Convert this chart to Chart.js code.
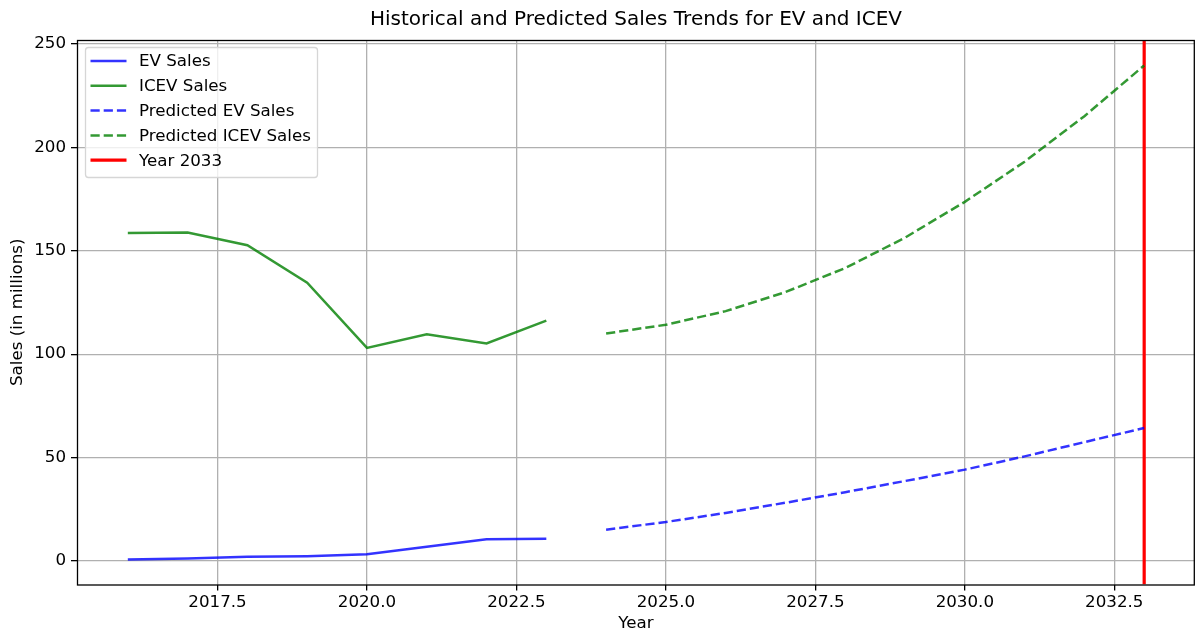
<!DOCTYPE html>
<html>
<head>
<meta charset="utf-8">
<script src="https://cdn.jsdelivr.net/npm/chart.js@4"></script>
<style>
  html, body { margin: 0; padding: 0; background: #fff; }
</style>
</head>
<body>
<canvas id="chart" width="1195" height="635"></canvas>
<script>
  const histYears = [2016, 2017, 2018, 2019, 2020, 2021, 2022, 2023];
  const evSales = [0.8, 1.3, 2.1, 2.4, 3.3, 6.9, 10.6, 10.8];
  const icevSales = [158.6, 158.8, 152.6, 134.5, 103.0, 109.6, 105.2, 116.2];

  const predYears = [2024, 2025, 2026, 2027, 2028, 2029, 2030, 2031, 2032, 2033];
  const predEvSales = [15.2, 18.9, 23.3, 28.2, 33.3, 38.7, 44.2, 50.6, 57.5, 64.3];
  const predIcevSales = [110.0, 114.2, 120.8, 130.0, 141.6, 156.3, 173.6, 193.0, 215.0, 239.5];

  const markerYear = 2033;

  const xTicks = [2017.5, 2020.0, 2022.5, 2025.0, 2027.5, 2030.0, 2032.5];
  const yTicks = [0, 50, 100, 150, 200, 250];
  const xRange = [2015.15, 2033.85];
  const yRange = [-11.3, 251.8];

  const FONT = "'DejaVu Sans', sans-serif";
  const BLUE = "rgba(0,0,255,0.8)";
  const GREEN = "rgba(0,128,0,0.8)";
  const DASH = [9.2, 4];

  const pts = (xs, ys) => xs.map((x, i) => ({ x, y: ys[i] }));

  // spines, legend and text, drawn on top like matplotlib does
  const decor = {
    id: "decor",
    afterDraw(chart) {
      const { ctx, chartArea: a } = chart;
      ctx.save();

      ctx.strokeStyle = "#000";
      ctx.lineWidth = 1.3;
      ctx.strokeRect(a.left + 0.5, a.top + 0.5, a.right - a.left - 1.2, a.bottom - a.top);

      ctx.fillStyle = "#000";
      ctx.textAlign = "center";
      ctx.textBaseline = "middle";
      ctx.font = `20px ${FONT}`;
      ctx.fillText("Historical and Predicted Sales Trends for EV and ICEV", (a.left + a.right) / 2, 20);

      ctx.font = `16.7px ${FONT}`;
      ctx.fillText("Year", (a.left + a.right) / 2, 624);
      ctx.save();
      ctx.translate(18, (a.top + a.bottom) / 2);
      ctx.rotate(-Math.PI / 2);
      ctx.fillText("Sales (in millions)", 0, 0);
      ctx.restore();

      // legend
      const bx = 85.5, by = 47.5, bw = 232, bh = 130;
      ctx.beginPath();
      ctx.roundRect(bx, by, bw, bh, 3);
      ctx.fillStyle = "rgba(255,255,255,0.8)";
      ctx.fill();
      ctx.strokeStyle = "#d6d6d6";
      ctx.lineWidth = 1.3;
      ctx.stroke();

      ctx.textAlign = "left";
      chart.data.datasets.forEach((ds, i) => {
        const y = 61 + i * 24.8;
        ctx.beginPath();
        ctx.setLineDash(ds.borderDash || []);
        ctx.strokeStyle = ds.borderColor;
        ctx.lineWidth = ds.borderWidth;
        ctx.moveTo(90.5, y);
        ctx.lineTo(126.5, y);
        ctx.stroke();
        ctx.setLineDash([]);
        ctx.fillStyle = "#000";
        ctx.fillText(ds.label, 139, y + 1);
      });

      ctx.restore();
    }
  };

  new Chart(document.getElementById("chart"), {
    type: "line",
    data: {
      datasets: [
        { label: "EV Sales", data: pts(histYears, evSales), borderColor: BLUE, borderWidth: 2.5 },
        { label: "ICEV Sales", data: pts(histYears, icevSales), borderColor: GREEN, borderWidth: 2.5 },
        { label: "Predicted EV Sales", data: pts(predYears, predEvSales), borderColor: BLUE, borderWidth: 2.5, borderDash: DASH },
        { label: "Predicted ICEV Sales", data: pts(predYears, predIcevSales), borderColor: GREEN, borderWidth: 2.5, borderDash: DASH },
        { label: "Year 2033", data: [{ x: markerYear, y: yRange[0] }, { x: markerYear, y: yRange[1] }], borderColor: "#ff0000", borderWidth: 3.2 }
      ]
    },
    options: {
      responsive: false,
      animation: false,
      devicePixelRatio: 1,
      layout: { padding: { top: 40, left: 0, right: 0, bottom: 0 } },
      elements: { point: { radius: 0 }, line: { tension: 0, borderCapStyle: "butt" } },
      plugins: { legend: { display: false }, tooltip: { enabled: false } },
      scales: {
        x: {
          type: "linear",
          min: xRange[0],
          max: xRange[1],
          afterBuildTicks: s => { s.ticks = xTicks.map(v => ({ value: v })); },
          afterFit: s => { s.height = 50.5; },
          grid: { color: "#b0b0b0", lineWidth: 1.3, tickColor: "#000", tickWidth: 1.3, tickLength: 6 },
          border: { display: false },
          ticks: { color: "#000", font: { family: FONT, size: 16.7 }, padding: 2, maxRotation: 0, callback: v => v.toFixed(1) }
        },
        y: {
          type: "linear",
          min: yRange[0],
          max: yRange[1],
          afterBuildTicks: s => { s.ticks = yTicks.map(v => ({ value: v })); },
          afterFit: s => { s.width = 77; },
          grid: { color: "#b0b0b0", lineWidth: 1.3, tickColor: "#000", tickWidth: 1.3, tickLength: 6 },
          border: { display: false },
          ticks: { color: "#000", font: { family: FONT, size: 16.7 }, padding: 5, callback: v => String(v) }
        }
      }
    },
    plugins: [decor]
  });
</script>
</body>
</html>
